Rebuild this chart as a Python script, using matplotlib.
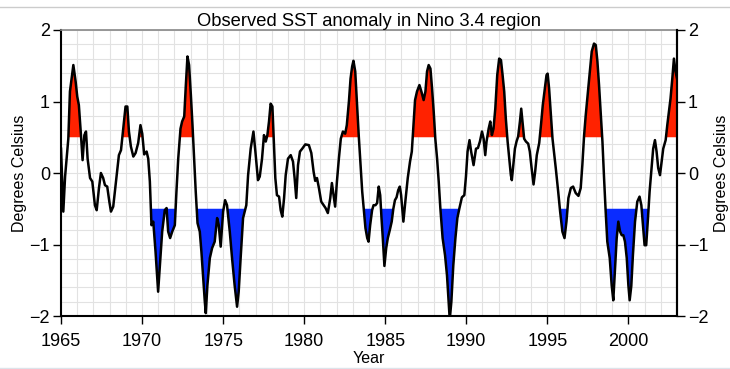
import numpy as np
import matplotlib
matplotlib.use("Agg")
from matplotlib import pyplot as plt
from matplotlib.lines import Line2D
from matplotlib.ticker import MultipleLocator

# values (time in decimal years, anomaly in deg C)
years = [
    1965.00, 1965.14, 1965.25, 1965.45, 1965.55, 1965.76, 1965.90, 1966.00, 1966.10, 1966.23,
    1966.33, 1966.44, 1966.54, 1966.64, 1966.79, 1966.93, 1967.09, 1967.20, 1967.34, 1967.46,
    1967.60, 1967.71, 1967.85, 1967.98, 1968.08, 1968.22, 1968.43, 1968.57, 1968.70, 1968.84,
    1968.98, 1969.09, 1969.19, 1969.31, 1969.46, 1969.60, 1969.76, 1969.90, 1970.01, 1970.13,
    1970.28, 1970.38, 1970.48, 1970.58, 1970.69, 1970.83, 1970.99, 1971.10, 1971.24, 1971.40,
    1971.51, 1971.61, 1971.73, 1971.86, 1972.02, 1972.12, 1972.23, 1972.37, 1972.47, 1972.60,
    1972.70, 1972.80, 1972.90, 1973.01, 1973.11, 1973.21, 1973.31, 1973.42, 1973.56, 1973.66,
    1973.77, 1973.87, 1973.93, 1974.03, 1974.18, 1974.32, 1974.48, 1974.63, 1974.73, 1974.85,
    1975.00, 1975.12, 1975.24, 1975.41, 1975.55, 1975.71, 1975.86, 1975.96, 1976.08, 1976.23,
    1976.33, 1976.43, 1976.54, 1976.70, 1976.87, 1976.99, 1977.15, 1977.26, 1977.40, 1977.52,
    1977.63, 1977.73, 1977.83, 1977.93, 1978.04, 1978.12, 1978.22, 1978.32, 1978.45, 1978.55,
    1978.65, 1978.76, 1978.86, 1979.00, 1979.17, 1979.31, 1979.41, 1979.51, 1979.62, 1979.74,
    1979.88, 1980.07, 1980.29, 1980.44, 1980.58, 1980.68, 1980.79, 1980.91, 1981.05, 1981.20,
    1981.32, 1981.46, 1981.61, 1981.71, 1981.81, 1981.91, 1982.02, 1982.14, 1982.26, 1982.39,
    1982.53, 1982.63, 1982.76, 1982.86, 1982.96, 1983.04, 1983.15, 1983.25, 1983.37, 1983.48,
    1983.58, 1983.68, 1983.78, 1983.89, 1983.97, 1984.07, 1984.19, 1984.28, 1984.40, 1984.50,
    1984.60, 1984.69, 1984.77, 1984.85, 1984.95, 1985.06, 1985.16, 1985.28, 1985.40, 1985.50,
    1985.60, 1985.70, 1985.80, 1985.90, 1985.98, 1986.12, 1986.24, 1986.39, 1986.53, 1986.64,
    1986.74, 1986.84, 1986.96, 1987.11, 1987.23, 1987.37, 1987.48, 1987.58, 1987.68, 1987.79,
    1987.89, 1987.99, 1988.09, 1988.20, 1988.30, 1988.40, 1988.54, 1988.69, 1988.81, 1988.91,
    1988.98, 1989.08, 1989.20, 1989.33, 1989.45, 1989.57, 1989.73, 1989.88, 1989.98, 1990.08,
    1990.20, 1990.30, 1990.45, 1990.60, 1990.72, 1990.84, 1990.97, 1991.07, 1991.17, 1991.25,
    1991.38, 1991.48, 1991.58, 1991.68, 1991.79, 1991.91, 1992.03, 1992.14, 1992.24, 1992.34,
    1992.44, 1992.55, 1992.65, 1992.75, 1992.81, 1992.90, 1993.00, 1993.10, 1993.20, 1993.31,
    1993.39, 1993.47, 1993.57, 1993.68, 1993.82, 1993.92, 1994.03, 1994.15, 1994.25, 1994.35,
    1994.50, 1994.62, 1994.72, 1994.83, 1994.95, 1995.02, 1995.11, 1995.22, 1995.32, 1995.42,
    1995.52, 1995.67, 1995.79, 1995.93, 1996.06, 1996.18, 1996.30, 1996.45, 1996.59, 1996.75,
    1996.92, 1997.06, 1997.16, 1997.27, 1997.37, 1997.51, 1997.64, 1997.74, 1997.88, 1997.99,
    1998.09, 1998.19, 1998.29, 1998.40, 1998.50, 1998.60, 1998.70, 1998.85, 1998.97, 1999.07,
    1999.18, 1999.28, 1999.38, 1999.49, 1999.59, 1999.69, 1999.79, 1999.90, 2000.00, 2000.08,
    2000.18, 2000.28, 2000.41, 2000.55, 2000.69, 2000.80, 2000.90, 2001.00, 2001.10, 2001.21,
    2001.31, 2001.43, 2001.53, 2001.64, 2001.74, 2001.84, 2001.95, 2002.05, 2002.15, 2002.30,
    2002.40, 2002.50, 2002.60, 2002.71, 2002.81, 2002.91, 2003.00,
]
anom = [
    0.34, -0.54, -0.05, 0.48, 1.14, 1.51, 1.28, 1.07, 0.95, 0.53,
    0.18, 0.53, 0.58, 0.20, -0.07, -0.12, -0.45, -0.52, -0.21, 0.00,
    -0.07, -0.17, -0.19, -0.40, -0.54, -0.47, -0.03, 0.25, 0.32, 0.62,
    0.93, 0.93, 0.58, 0.37, 0.23, 0.28, 0.42, 0.67, 0.55, 0.26,
    0.30, 0.20, -0.12, -0.73, -0.68, -1.10, -1.66, -1.29, -0.82, -0.52,
    -0.49, -0.82, -0.91, -0.82, -0.73, -0.26, 0.20, 0.62, 0.72, 0.79,
    1.23, 1.63, 1.51, 1.09, 0.67, 0.20, -0.26, -0.70, -0.82, -1.10,
    -1.47, -1.80, -1.96, -1.57, -1.19, -1.05, -0.96, -0.63, -0.73, -1.03,
    -0.54, -0.38, -0.45, -0.82, -1.19, -1.57, -1.87, -1.66, -1.19, -0.63,
    -0.54, -0.45, -0.03, 0.34, 0.58, 0.30, -0.10, -0.05, 0.20, 0.53,
    0.44, 0.53, 0.72, 0.97, 0.93, 0.48, -0.07, -0.31, -0.33, -0.52,
    -0.61, -0.35, -0.03, 0.20, 0.25, 0.16, -0.07, -0.35, 0.11, 0.30,
    0.34, 0.40, 0.39, 0.28, 0.02, -0.11, -0.07, -0.21, -0.40, -0.45,
    -0.49, -0.56, -0.35, -0.14, -0.31, -0.47, -0.12, 0.20, 0.48, 0.58,
    0.55, 0.67, 1.00, 1.32, 1.49, 1.57, 1.42, 1.00, 0.51, 0.11,
    -0.26, -0.52, -0.77, -0.91, -0.96, -0.73, -0.52, -0.45, -0.45, -0.42,
    -0.19, -0.31, -0.63, -0.91, -1.30, -1.05, -0.91, -0.80, -0.68, -0.50,
    -0.38, -0.34, -0.24, -0.19, -0.31, -0.68, -0.40, -0.07, 0.16, 0.30,
    0.67, 1.02, 1.14, 1.23, 1.14, 1.02, 1.14, 1.42, 1.51, 1.46,
    1.18, 0.86, 0.48, 0.20, -0.12, -0.49, -0.91, -1.15, -1.43, -1.80,
    -2.05, -1.80, -1.29, -0.91, -0.63, -0.50, -0.34, -0.31, -0.05, 0.30,
    0.46, 0.30, 0.11, 0.34, 0.35, 0.44, 0.58, 0.48, 0.25, 0.44,
    0.62, 0.72, 0.53, 0.62, 0.90, 1.37, 1.60, 1.58, 1.37, 1.14,
    0.76, 0.44, 0.20, -0.03, -0.10, 0.11, 0.34, 0.44, 0.51, 0.72,
    0.90, 0.72, 0.48, 0.44, 0.41, 0.30, 0.07, -0.16, 0.02, 0.25,
    0.42, 0.70, 0.95, 1.15, 1.37, 1.39, 1.18, 0.81, 0.48, 0.28,
    0.07, -0.26, -0.54, -0.82, -0.91, -0.68, -0.35, -0.21, -0.19, -0.28,
    -0.32, -0.21, 0.11, 0.53, 0.81, 1.14, 1.46, 1.70, 1.81, 1.79,
    1.56, 1.23, 0.86, 0.44, -0.07, -0.54, -0.96, -1.19, -1.57, -1.78,
    -1.33, -0.91, -0.68, -0.82, -0.87, -0.87, -0.96, -1.19, -1.57, -1.78,
    -1.58, -1.15, -0.68, -0.40, -0.33, -0.45, -0.73, -1.01, -1.01, -0.63,
    -0.26, 0.07, 0.34, 0.46, 0.30, 0.07, -0.03, 0.16, 0.34, 0.46,
    0.67, 0.86, 1.04, 1.32, 1.60, 1.42, 1.32,
]

warm_level = 0.5
cold_level = -0.5
year_ticks = [1965, 1970, 1975, 1980, 1985, 1990, 1995, 2000]
deg_ticks = [-2, -1, 0, 1, 2]


def main():
    plt.rcParams['font.family'] = ['Liberation Sans', 'DejaVu Sans']

    t = np.array(years)
    v = np.array(anom)

    fig = plt.figure(figsize=(7.30, 3.69), dpi=100)
    ax = fig.add_axes([0.0836, 0.1436, 0.8438, 0.7751])

    # shading above +0.5 and below -0.5
    ax.fill_between(t, warm_level, v, where=v > warm_level, interpolate=True,
                    color='#ff2200', linewidth=0, zorder=2)
    ax.fill_between(t, cold_level, v, where=v < cold_level, interpolate=True,
                    color='#0a2cff', linewidth=0, zorder=2)
    ax.plot(t, v, color='black', linewidth=1.8, zorder=3)

    ax.set_xlim(1965, 2003)
    ax.set_ylim(-2, 2)
    ax.set_xticks(year_ticks)
    ax.set_yticks(deg_ticks)
    ax.xaxis.set_minor_locator(MultipleLocator(1))
    ax.yaxis.set_minor_locator(MultipleLocator(0.2))
    ax.grid(which='both', color='#e2e2e2', linewidth=0.8, zorder=0)
    ax.set_axisbelow(True)
    ax.tick_params(which='major', direction='out', length=6, width=1.0, labelsize=13)
    ax.tick_params(axis='x', which='major', pad=6)
    ax.tick_params(axis='y', which='major', pad=2)
    ax.tick_params(which='minor', length=0)

    for side in ['left', 'bottom', 'right']:
        ax.spines[side].set_linewidth(1.5)
    ax.spines['top'].set_color('#888888')
    ax.spines['top'].set_linewidth(1.2)

    ax.set_title('Observed SST anomaly in Nino 3.4 region', fontsize=13.2, pad=2)
    ax.set_xlabel('Year', fontsize=11.5, labelpad=1)
    ax.set_ylabel('Degrees Celsius', fontsize=11.5, labelpad=2)

    ax2 = ax.twinx()
    ax2.set_ylim(-2, 2)
    ax2.set_yticks(deg_ticks)
    ax2.tick_params(direction='out', length=6, width=1.0, labelsize=13, pad=2)
    ax2.set_ylabel('Degrees Celsius', fontsize=11.5, rotation=90, labelpad=4)
    for side in ['top', 'bottom', 'left']:
        ax2.spines[side].set_visible(False)
    ax2.spines['right'].set_linewidth(1.5)

    # frame lines of the screenshot
    fig.add_artist(Line2D([0, 1], [0.98, 0.98], color='#cccccc', linewidth=1.0))
    fig.add_artist(Line2D([0, 1], [0.004, 0.004], color='#dde3ea', linewidth=1.0))

    fig.savefig('out.png', dpi=100)


if __name__ == "__main__":
    main()
